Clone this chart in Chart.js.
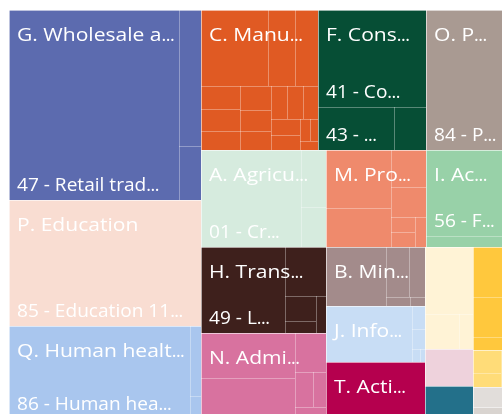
<!DOCTYPE html>
<html>
<head>
<meta charset="utf-8">
<script src="https://cdn.jsdelivr.net/npm/chart.js@4.4.1/dist/chart.umd.min.js"></script>
<style>
  html, body { margin: 0; padding: 0; overflow: hidden; background: #fff; }
  #wrap { width: 511px; height: 419px; }
</style>
</head>
<body>
<div id="wrap"><canvas id="treemap" width="511" height="419"></canvas></div>
<script>
// Secteurs (niveau 1), dans l'ordre du visuel
const sectors = [
  'G. Wholesale and retail trade; repair of motor vehicles and motorcycles',
  'P. Education',
  'Q. Human health and social work activities',
  'C. Manufacturing',
  'F. Construction',
  'O. Public administration and defence; compulsory social security',
  'A. Agriculture, forestry and fishing',
  'M. Professional, scientific and technical activities',
  'I. Accommodation and food service activities',
  'H. Transportation and storage',
  'N. Administrative and support service activities',
  'B. Mining and quarrying',
  'J. Information and communication',
  'T. Activities of households as employers',
  'S. Other service activities',
  'K. Financial and insurance activities',
  'L. Real estate activities',
  'R. Arts, entertainment and recreation',
  'E. Water supply; sewerage, waste management and remediation activities',
  'D. Electricity, gas, steam and air conditioning supply',
  'U. Activities of extraterritorial organisations and bodies'
];

const sectorColors = [
  '#5C6BAF', '#F9DDD2', '#A9C6EE', '#E05A23', '#064E35', '#A99A92', '#D6EBDE',
  '#EF8A6C', '#98D1A8', '#3E201C', '#D8729F', '#A38B8B', '#C8DDF5', '#B5004E',
  '#FFF3D6', '#EED2DC', '#23708A', '#FFC83D', '#FFDC78', '#E1DDDA', '#D9D4D0'
];

// Divisions NACE (niveau 2) de chaque secteur
const divisionNames = [
  ['47 - Retail trade, except of motor vehicles and motorcycles', '46 - Wholesale trade, except of motor vehicles and motorcycles', '45 - Wholesale and retail trade and repair of motor vehicles and motorcycles'],
  ['85 - Education'],
  ['86 - Human health activities', '87 - Residential care activities', '88 - Social work activities without accommodation'],
  ['10 - Manufacture of food products', '25 - Manufacture of fabricated metal products', '28 - Manufacture of machinery and equipment n.e.c.', '22 - Manufacture of rubber and plastic products', '16 - Manufacture of wood and of products of wood and cork', '29 - Manufacture of motor vehicles, trailers and semi-trailers', '27 - Manufacture of electrical equipment', '33 - Repair and installation of machinery and equipment', '31 - Manufacture of furniture', '23 - Manufacture of other non-metallic mineral products', '18 - Printing and reproduction of recorded media', '32 - Other manufacturing', '11 - Manufacture of beverages', '20 - Manufacture of chemicals and chemical products', '26 - Manufacture of computer, electronic and optical products', '24 - Manufacture of basic metals', '30 - Manufacture of other transport equipment'],
  ['41 - Construction of buildings', '43 - Specialised construction activities', '42 - Civil engineering'],
  ['84 - Public administration and defence; compulsory social security'],
  ['01 - Crop and animal production, hunting and related service activities', '02 - Forestry and logging', '03 - Fishing and aquaculture'],
  ['69 - Legal and accounting activities', '71 - Architectural and engineering activities', '70 - Activities of head offices; management consultancy', '73 - Advertising and market research', '74 - Other professional, scientific and technical activities', '72 - Scientific research and development', '75 - Veterinary activities'],
  ['56 - Food and beverage service activities', '55 - Accommodation'],
  ['49 - Land transport and transport via pipelines', '52 - Warehousing and support activities for transportation', '53 - Postal and courier activities', '50 - Water transport', '51 - Air transport'],
  ['81 - Services to buildings and landscape activities', '78 - Employment activities', '82 - Office administrative and support activities', '77 - Rental and leasing activities', '80 - Security and investigation activities', '79 - Travel agency and tour operator activities'],
  ['08 - Other mining and quarrying', '06 - Extraction of crude petroleum and natural gas', '09 - Mining support service activities', '05 - Mining of coal and lignite', '07 - Mining of metal ores'],
  ['62 - Computer programming, consultancy and related activities', '61 - Telecommunications', '58 - Publishing activities', '63 - Information service activities', '60 - Programming and broadcasting activities'],
  ['97 - Activities of households as employers of domestic personnel'],
  ['96 - Other personal service activities', '94 - Activities of membership organisations', '95 - Repair of computers and personal and household goods'],
  ['64 - Financial service activities'],
  ['68 - Real estate activities'],
  ['93 - Sports activities and amusement and recreation activities', '91 - Libraries, archives, museums and other cultural activities', '90 - Creative, arts and entertainment activities'],
  ['38 - Waste collection, treatment and disposal activities', '36 - Water collection, treatment and supply', '37 - Sewerage'],
  ['35 - Electricity, gas, steam and air conditioning supply'],
  ['99 - Activities of extraterritorial organisations and bodies']
];

const divisionValues = [
  [15375, 1428, 562],
  [11516],
  [8013, 367, 120],
  [2424, 977, 832, 427, 408, 354, 353, 310, 280, 257, 251, 236, 214, 207, 105, 81, 81],
  [4987, 1556, 655],
  [5664],
  [4617, 678, 476],
  [1795, 1207, 616, 500, 171, 167, 162],
  [3480, 445],
  [3439, 956, 369, 177, 176],
  [2013, 1835, 575, 300, 217, 177],
  [1685, 557, 376, 100, 62],
  [2292, 142, 124, 47, 34],
  [2686],
  [1531, 566, 233],
  [845],
  [754],
  [904, 724, 235],
  [308, 181, 180],
  [362],
  [217]
];

// Bandes du premier niveau : sens et nombre de secteurs
const strips = [['col', 3], ['row', 3], ['row', 3], ['col', 2], ['col', 3], ['col', 3], ['col', 4]];

const FONT = '18px "Segoe UI", "Open Sans", sans-serif';
const GROUP_LABEL = { stretch: 1.17, pad: 22.8 };
const DETAIL_LABEL = { stretch: 1.06, pad: 22.6 };
const DOT_STEP = 4.2;
const sum = arr => arr.reduce((a, b) => a + b.v, 0);

// Squarify (ratio d'or), comme d3
function squarify(items, rect) {
  const ratio = (1 + Math.sqrt(5)) / 2;
  let { x0, y0, x1, y1 } = rect;
  let total = sum(items);
  let i0 = 0;
  while (i0 < items.length) {
    const dx = x1 - x0, dy = y1 - y0;
    let i1 = i0;
    let s = items[i1++].v, minV = s, maxV = s;
    const alpha = Math.max(dy / dx, dx / dy) / (total * ratio);
    let beta = s * s * alpha;
    let minRatio = Math.max(maxV / beta, beta / minV);
    for (; i1 < items.length; i1++) {
      const v = items[i1].v;
      const s2 = s + v;
      const mn = Math.min(minV, v), mx = Math.max(maxV, v);
      beta = s2 * s2 * alpha;
      const r = Math.max(mx / beta, beta / mn);
      if (r > minRatio) break;
      s = s2; minV = mn; maxV = mx; minRatio = r;
    }
    const row = items.slice(i0, i1);
    if (dx < dy) {
      const h = dy * s / total;
      let x = x0;
      row.forEach(it => { const w = dx * it.v / s; it.rect = { x0: x, x1: x + w, y0: y0, y1: y0 + h }; x += w; });
      y0 += h;
    } else {
      const w = dx * s / total;
      let y = y0;
      row.forEach(it => { const h = dy * it.v / s; it.rect = { x0: x0, x1: x0 + w, y0: y, y1: y + h }; y += h; });
      x0 += w;
    }
    total -= s;
    i0 = i1;
  }
  return items;
}

// Texte tronqué avec "..." pour tenir dans la case
function fitText(ctx, text, maxW, stretch) {
  const width = t => ctx.measureText(t).width * stretch;
  if (width(text) <= maxW) return { text, dots: false };
  for (let n = text.length - 1; n > 0; n--) {
    const t = text.slice(0, n);
    if (width(t) + 3 * DOT_STEP <= maxW) return { text: t, dots: true };
  }
  return null;
}

function drawLabel(ctx, text, x, y, cellW, style) {
  const fit = fitText(ctx, text, cellW - style.pad, style.stretch);
  if (!fit) return;
  const w = ctx.measureText(fit.text).width * style.stretch;
  ctx.save();
  ctx.translate(x, y);
  ctx.scale(style.stretch, 1);
  ctx.fillText(fit.text, 0, 0);
  ctx.restore();
  if (fit.dots) {
    for (let i = 0; i < 3; i++) ctx.fillText('.', x + w + i * DOT_STEP, y);
  }
}

const treemapPlugin = {
  id: 'treemap',
  afterDraw(chart) {
    const ctx = chart.ctx;
    const xs = chart.scales.x, ys = chart.scales.y;
    const root = { x0: xs.getPixelForValue(0), x1: xs.getPixelForValue(1), y0: ys.getPixelForValue(1), y1: ys.getPixelForValue(0) };

    // Placement des secteurs par bandes
    const groups = sectors.map((name, i) => ({
      name, color: sectorColors[i],
      children: divisionNames[i].map((n, j) => ({ name: n, v: divisionValues[i][j] })).sort((a, b) => b.v - a.v)
    }));
    groups.forEach(g => { g.v = sum(g.children); });
    const rect = { ...root };
    let total = sum(groups), k = 0;
    strips.forEach(([dir, n]) => {
      const row = groups.slice(k, k + n);
      k += n;
      const s = sum(row);
      if (dir === 'col') {
        const w = (rect.x1 - rect.x0) * s / total;
        let y = rect.y0;
        row.forEach(g => { const h = (rect.y1 - rect.y0) * g.v / s; g.rect = { x0: rect.x0, x1: rect.x0 + w, y0: y, y1: y + h }; y += h; });
        rect.x0 += w;
      } else {
        const h = (rect.y1 - rect.y0) * s / total;
        let x = rect.x0;
        row.forEach(g => { const w = (rect.x1 - rect.x0) * g.v / s; g.rect = { x0: x, x1: x + w, y0: rect.y0, y1: rect.y0 + h }; x += w; });
        rect.y0 += h;
      }
      total -= s;
    });
    groups.forEach(g => squarify(g.children, g.rect));

    const R = Math.round;
    ctx.save();
    // Remplissage
    groups.forEach(g => {
      ctx.fillStyle = g.color;
      ctx.fillRect(R(g.rect.x0), R(g.rect.y0), R(g.rect.x1) - R(g.rect.x0), R(g.rect.y1) - R(g.rect.y0));
    });
    // Bordures des divisions puis des secteurs
    const edges = (r, color) => {
      ctx.strokeStyle = color;
      ctx.lineWidth = 1;
      ctx.beginPath();
      ctx.moveTo(R(r.x0) + 0.5, R(r.y0));
      ctx.lineTo(R(r.x0) + 0.5, R(r.y1));
      ctx.moveTo(R(r.x0), R(r.y0) + 0.5);
      ctx.lineTo(R(r.x1), R(r.y0) + 0.5);
      ctx.stroke();
    };
    groups.forEach(g => g.children.forEach(c => edges(c.rect, 'rgba(255,255,255,0.33)')));
    groups.forEach(g => edges(g.rect, 'rgba(255,255,255,0.4)'));

    // Étiquettes
    ctx.font = FONT;
    ctx.fillStyle = '#ffffff';
    ctx.textBaseline = 'alphabetic';
    groups.forEach(g => {
      const r = g.rect;
      const w = r.x1 - r.x0, h = r.y1 - r.y0;
      if (w < 60 || h < 40) return;
      drawLabel(ctx, g.name, r.x0 + 8, r.y0 + 31, w, GROUP_LABEL);
      g.children.forEach(c => {
        const cr = c.rect;
        const cw = cr.x1 - cr.x0, ch = cr.y1 - cr.y0;
        if (cw < 70 || ch < 42 || cr.y1 - r.y0 < 62) return;
        drawLabel(ctx, c.name + ' ' + c.v, cr.x0 + 8, cr.y1 - 9, cw, DETAIL_LABEL);
      });
    });
    ctx.restore();
  }
};

new Chart(document.getElementById('treemap'), {
  type: 'scatter',
  data: { datasets: [] },
  options: {
    responsive: false,
    animation: false,
    layout: { padding: { left: 9, top: 10, right: 0, bottom: 0 } },
    plugins: { legend: { display: false }, tooltip: { enabled: false } },
    scales: {
      x: { type: 'linear', min: 0, max: 1, display: false },
      y: { type: 'linear', min: 0, max: 1, display: false }
    }
  },
  plugins: [treemapPlugin]
});
</script>
</body>
</html>
